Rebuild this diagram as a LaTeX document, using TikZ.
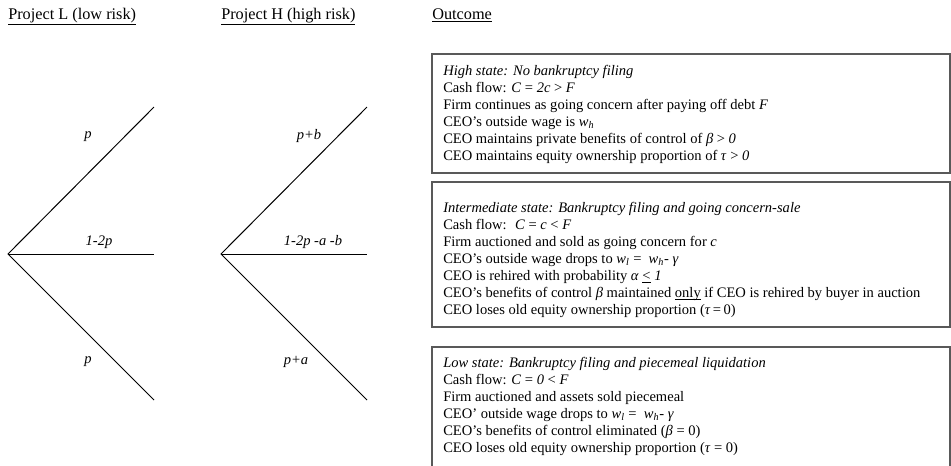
\documentclass[tikz,border=0pt]{standalone}
\usepackage{fontspec}
\setmainfont{Liberation Serif}
\usetikzlibrary{positioning}

\tikzset{
  branch/.style={line width=0.75pt},
  prob/.style={font=\fontsize{10.9}{12.75}\selectfont\itshape, inner sep=0pt},
  head/.style={font=\fontsize{12.2}{14}\selectfont, anchor=base west, inner sep=0pt},
  outbox/.style={draw=black!65, line width=0.9pt},
  outtext/.style={anchor=north west, align=left, inner sep=0pt, font=\fontsize{10.9}{12.75}\selectfont},
}

\begin{document}
\begin{tikzpicture}[x=0.75pt, y=-0.75pt]
        \path[use as bounding box, clip] (0,0) rectangle (951,465);

        %trees: root, upper, middle, lower end
        \coordinate (L0) at (8,254);
        \coordinate (L1) at (154,107);
        \coordinate (L2) at (154,254);
        \coordinate (L3) at (154,400);
        \coordinate (H0) at (221,254);
        \coordinate (H1) at (367,107);
        \coordinate (H2) at (367,254);
        \coordinate (H3) at (367,400);

        \draw[branch] (L1) -- (L0) -- (L3);
        \draw[branch] (L0) -- (L2);
        \draw[branch] (H1) -- (H0) -- (H3);
        \draw[branch] (H0) -- (H2);

        \node[prob] (pL1) at (88,137) {p};
        \node[prob] (pL2) at (99,242) {1-2p};
        \node[prob] (pL3) at (88,362) {p};
        \node[prob] (pH1) at (309,136) {p+b};
        \node[prob] (pH2) at (313,242) {1-2p -a -b};
        \node[prob] (pH3) at (296,362) {p+a};

        \node[head] (headL) at (8,19) {\underline{Project L (low risk)}};
        \node[head] (headH) at (221,19) {\underline{Project H (high risk)}};
        \node[head] (headO) at (432,19) {\underline{Outcome}};

        \draw[outbox] (432,54) rectangle (950,173);
        \draw[outbox] (432,182) rectangle (950,327);
        \draw[outbox] (432,347) rectangle (950,480);

        \node[outtext] (high) at (443,65) {\textit{High state: No bankruptcy filing}\\
          Cash flow: \textit{C} = \textit{2c} > \textit{F}\\
          Firm continues as going concern after paying off debt \textit{F}\\
          CEO’s outside wage is \textit{w}\textsubscript{\textit{h}}\\
          CEO maintains private benefits of control of \textit{β} > \textit{0}\\
          CEO maintains equity ownership proportion of \textit{τ} > \textit{0}};
        \node[outtext] (mid) at (443,202) {\textit{Intermediate state: Bankruptcy filing and going concern-sale}\\
          Cash flow:~ \textit{C} = \textit{c} < \textit{F}\\
          Firm auctioned and sold as going concern for \textit{c}\\
          CEO’s outside wage drops to \textit{w}\textsubscript{\textit{l}} =~ \textit{w}\textsubscript{\textit{h}}- \textit{γ}\\
          CEO is rehired with probability \textit{α} \underline{\smash{<}} \textit{1}\\
          CEO’s benefits of control \textit{β} maintained \underline{\smash{only}} if CEO is rehired by buyer in auction\\
          CEO loses old equity ownership proportion (\textit{τ}\,=\,0)};
        \node[outtext] (low) at (443,357) {\textit{Low state: Bankruptcy filing and piecemeal liquidation}\\
          Cash flow: \textit{C} = \textit{0} < \textit{F}\\
          Firm auctioned and assets sold piecemeal\\
          CEO’ outside wage drops to \textit{w}\textsubscript{\textit{l}} =~ \textit{w}\textsubscript{\textit{h}}- \textit{γ}\\
          CEO’s benefits of control eliminated (\textit{β} = 0)\\
          CEO loses old equity ownership proportion (\textit{τ} = 0)};
\end{tikzpicture}
\end{document}
